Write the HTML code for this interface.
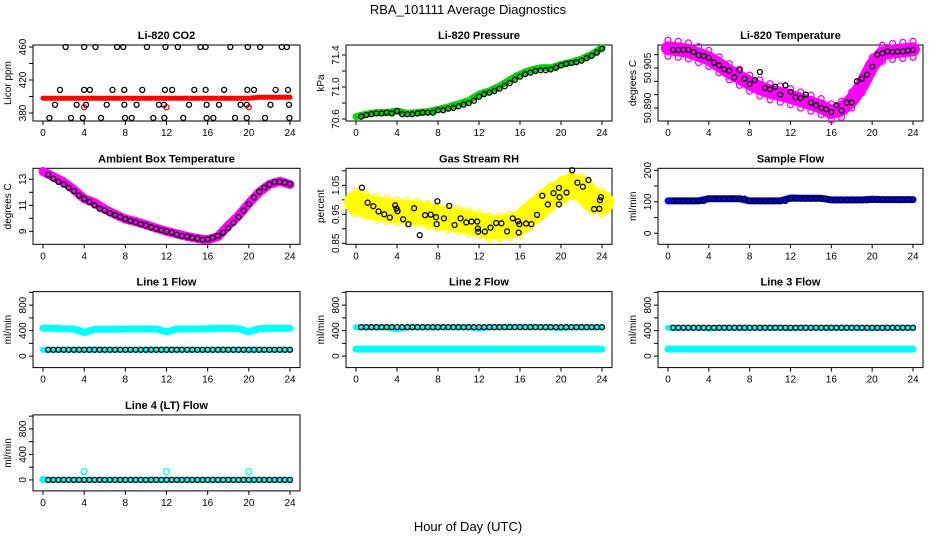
<!DOCTYPE html>
<html><head><meta charset="utf-8"><style>
html,body{margin:0;padding:0;background:#fff;}
svg{display:block;font-family:"Liberation Sans",Arial,sans-serif;}
</style></head><body>
<svg id="chart" width="936" height="540" viewBox="0 0 936 540" xmlns="http://www.w3.org/2000/svg">
<rect x="0" y="0" width="936" height="540" fill="#fff"/>
<text x="468" y="14" font-size="13" text-anchor="middle">RBA_101111  Average Diagnostics</text>
<text x="468" y="531" font-size="13" text-anchor="middle">Hour of Day (UTC)</text>
</svg>
<script>
const hourly = [0,1,2,3,4,5,6,7,8,9,10,11,12,13,14,15,16,17,18,19,20,21,22,23,24];
const halfHours = [0.5,1,1.5,2,2.5,3,3.5,4,4.5,5,5.5,6,6.5,7,7.5,8,8.5,9,9.5,10,10.5,11,11.5,12,12.5,13,13.5,14,14.5,15,15.5,16,16.5,17,17.5,18,18.5,19,19.5,20,20.5,21,21.5,22,22.5,23,23.5,24];
const xTicks = [0,4,8,12,16,20,24];

// CO2
const co2RedValues = [398,398,398,398,398,398,398,398,398,398,398,398,398,398,398,398,398,398,398,398,398,399,399,399,399];
const co2RedOutlierHours = [4,12,20];
const co2RedOutlierValues = [387,387,387];
const co2BlackHours = [2.2,4.0,5.1,7.2,7.8,10.1,11.9,13.1,15.3,15.8,18.2,19.9,21.1,23.2,23.7,
 1.65,4.0,4.55,6.75,7.9,9.65,11.85,12.55,14.7,15.8,17.6,19.85,20.5,22.6,23.8,
 1.17,3.27,4.18,6.19,7.9,9.1,11.27,11.76,14.19,15.9,17.1,19.2,19.8,22.1,23.9,
 0.62,2.72,3.86,5.64,7.97,8.62,10.72,11.79,13.63,15.9,16.55,18.66,19.8,21.57,23.94];
const co2BlackValues = [460,460,460,460,460,460,460,460,460,460,460,460,460,460,460,
 408,408,408,408,408,408,408,408,408,408,408,408,408,408,408,
 390,390,390,390,390,390,390,390,390,390,390,390,390,390,390,
 374,374,374,374,374,374,374,374,374,374,374,374,374,374,374];

// Pressure
const presGreenValues = [70.63,70.66,70.68,70.68,70.70,70.67,70.68,70.69,70.72,70.75,70.79,70.83,70.91,70.95,71.01,71.09,71.16,71.21,71.24,71.24,71.28,71.31,71.35,71.41,71.49];
const presBlackValues = [70.63,70.65,70.66,70.67,70.67,70.68,70.67,70.70,70.66,70.66,70.66,70.67,70.68,70.68,70.68,70.71,70.71,70.73,70.74,70.76,70.78,70.80,70.83,70.88,70.91,70.93,70.95,70.98,71.01,71.05,71.09,71.13,71.16,71.18,71.20,71.21,71.21,71.22,71.24,71.27,71.29,71.30,71.31,71.33,71.36,71.39,71.43,71.48];

// Li-820 temperature
const tempMagentaValues = [50.9124,50.9120,50.9114,50.9100,50.9086,50.9062,50.9036,50.9015,50.8993,50.8975,50.8961,50.8952,50.8942,50.8930,50.8918,50.8905,50.8885,50.8895,50.8930,50.8986,50.9060,50.9105,50.9112,50.9116,50.9120];
const tempBlackValues = [50.9118,50.9118,50.9118,50.9118,50.9110,50.9098,50.9095,50.9088,50.9070,50.9060,50.9045,50.9040,50.9015,50.9042,50.9010,50.8990,50.9005,50.9035,50.8975,50.8970,50.8980,50.8950,50.8985,50.8960,50.8940,50.8937,50.8950,50.8920,50.8910,50.8900,50.8895,50.8885,50.8910,50.8890,50.8920,50.8920,50.9000,50.9010,50.9025,50.9055,50.9100,50.9105,50.9112,50.9110,50.9112,50.9112,50.9115,50.9118];

// Ambient
const ambMagentaValues = [13.6,13.2,12.8,12.2,11.5,11.2,10.7,10.3,9.95,9.75,9.5,9.25,9.0,8.8,8.6,8.45,8.35,8.6,9.45,10.2,11.15,12.0,12.6,12.85,12.6];
const ambBlackValues = [13.35,13.05,12.8,12.6,12.35,12.1,11.75,11.5,11.25,11.0,10.75,10.6,10.4,10.25,10.1,9.95,9.8,9.7,9.55,9.45,9.3,9.2,9.1,9.0,8.9,8.75,8.65,8.6,8.5,8.45,8.35,8.4,8.5,8.65,8.9,9.25,9.65,10.1,10.6,11.1,11.6,12.05,12.35,12.6,12.8,12.8,12.75,12.65];

// RH
const rhYellowValues = [0.99,0.98,0.97,0.965,0.96,0.958,0.955,0.948,0.94,0.935,0.93,0.922,0.915,0.905,0.905,0.91,0.92,0.95,0.98,1.01,1.03,1.05,1.04,1.0,0.99];
const rhBlackHours = [0.58,1.13,1.69,2.2,2.75,3.3,3.82,3.95,4.05,4.6,5.12,5.67,6.22,6.74,7.29,7.81,7.87,7.94,8.58,9.1,9.62,10.2,10.76,11.27,11.82,11.89,11.92,12.57,13.12,13.67,14.19,14.74,15.29,15.81,15.87,15.94,16.59,17.1,17.66,18.17,18.72,19.27,19.8,19.86,19.8,20.54,21.09,21.6,22.13,22.68,23.23,23.74,23.8,23.9];
const rhBlackValues = [1.042,0.990,0.978,0.960,0.950,0.939,0.981,0.970,0.961,0.933,0.916,0.971,0.878,0.947,0.949,0.940,0.916,0.995,0.936,0.979,0.913,0.936,0.922,0.925,0.925,0.901,0.890,0.890,0.904,0.920,0.919,0.891,0.936,0.926,0.887,0.916,0.918,0.916,0.948,1.014,0.984,1.023,1.041,1.009,0.984,1.025,1.102,1.059,1.045,1.068,0.968,0.969,0.999,1.009];

// Sample flow
const sampleBlueValues = [103,103,103,103,110,110,110,110,103,103,103,103,112,111,111,111,106,106,106,106,108,107,107,107,107];
const sampleBlackValues = [103,103,103,103,103,103,103,110,110,110,110,110,110,110,110,103,103,103,103,103,103,103,103,110,110,110,110,110,110,110,110,105,105,105,105,105,105,105,105,107,107,107,107,107,107,107,107,107];

// Line flows
const line1CyanHigh = [440,435,430,425,370,420,420,420,425,425,425,425,380,425,425,425,430,435,435,430,380,430,435,435,435];
const line1CyanLow = [100,100,100,100,100,100,100,100,100,100,100,100,100,100,100,100,100,100,100,100,100,100,100,100,100];
const line1Black = [100,100,100,100,100,100,100,100,100,100,100,100,100,100,100,100,100,100,100,100,100,100,100,100,100,100,100,100,100,100,100,100,100,100,100,100,100,100,100,100,100,100,100,100,100,100,100,100];
const line2CyanHigh = [450,450,450,450,420,450,450,450,450,450,450,450,430,455,455,460,460,460,455,450,440,450,450,450,450];
const line2CyanLow = [110,110,110,110,110,110,110,110,110,110,110,110,110,110,110,110,110,110,110,110,110,110,110,110,110];
const line2Black = [455,455,455,455,455,455,455,455,455,455,455,455,455,455,455,455,455,455,455,455,455,455,455,455,455,455,455,455,455,455,455,455,455,455,455,455,455,455,455,455,455,455,455,455,455,455,455,455];
const line3CyanHigh = [445,445,445,445,430,445,445,445,445,445,445,445,435,445,445,445,445,445,445,445,435,445,445,445,445];
const line3CyanLow = [110,110,110,110,110,110,110,110,110,110,110,110,110,110,110,110,110,110,110,110,110,110,110,110,110];
const line3Black = [445,445,445,445,445,445,445,445,445,445,445,445,445,445,445,445,445,445,445,445,445,445,445,445,445,445,445,445,445,445,445,445,445,445,445,445,445,445,445,445,445,445,445,445,445,445,445,445];
const line4Cyan = [0,0,0,0,0,0,0,0,0,0,0,0,0,0,0,0,0,0,0,0,0,0,0,0,0];
const line4SpikeHours = [0,4,12,20];
const line4SpikeValues = [5,130,130,130];
const line4Black = [0,0,0,0,0,0,0,0,0,0,0,0,0,0,0,0,0,0,0,0,0,0,0,0,0,0,0,0,0,0,0,0,0,0,0,0,0,0,0,0,0,0,0,0,0,0,0,0];

const NS = "http://www.w3.org/2000/svg";
const svg = document.getElementById('chart');
function el(tag, attrs, parent) {
  const e = document.createElementNS(NS, tag);
  for (const k in attrs) e.setAttribute(k, attrs[k]);
  (parent || svg).appendChild(e);
  return e;
}
const lefts = [33, 346, 658], rights = [300, 612, 923];

function makePanel(cfg) {
  const g = el('g', {});
  
  
  const left = lefts[cfg.col], right = rights[cfg.col];
  const top = 45 + 123.3 * cfg.row, bottom = top + 76;
  const sx = h => left + 10 + h * (right - left - 20) / 24;
  const [v1, d1, v2, d2] = cfg.cal;
  const sy = v => top + d1 + (v - v1) * (d2 - d1) / (v2 - v1);
  const t = el('text', {x: (left + right) / 2, y: top - 6, 'font-size': 11, 'font-weight': 'bold', 'text-anchor': 'middle'}, g);
  t.textContent = cfg.title;
  
  
  const frame = el('rect', {x: left, y: top, width: right - left, height: bottom - top, fill: 'none', stroke: '#000', 'stroke-width': 1}, g);
  
  
  const xa = el('g', {}, g);
  
  
  xTicks.forEach(h => {
    el('line', {x1: sx(h), x2: sx(h), y1: bottom, y2: bottom + 4, stroke: '#000'}, xa);
    const lb = el('text', {x: sx(h), y: bottom + 15, 'font-size': 10, 'text-anchor': 'middle'}, xa);
    lb.textContent = h;
    
    
  });
  const ya = el('g', {}, g);
  
  
  const yt0 = sy(cfg.ticks[0]), yt1 = sy(cfg.ticks[cfg.ticks.length - 1]);
  el('line', {x1: left, x2: left, y1: Math.min(yt0, yt1), y2: Math.max(yt0, yt1), stroke: '#000'}, ya);
  cfg.ticks.forEach(v => {
    el('line', {x1: left - 4, x2: left, y1: sy(v), y2: sy(v), stroke: '#000'}, ya);
  });
  cfg.labels.forEach(lab => {
    const y = sy(parseFloat(lab));
    const lb = el('text', {x: left - 7, y: y, 'font-size': 10, 'text-anchor': 'middle', transform: 'rotate(-90 ' + (left - 7) + ' ' + y + ')'}, ya);
    lb.textContent = lab;
    
    
  });
  const cy = (top + bottom) / 2;
  const yt = el('text', {x: left - 22, y: cy, 'font-size': 10, 'text-anchor': 'middle', transform: 'rotate(-90 ' + (left - 22) + ' ' + cy + ')'}, g);
  yt.textContent = cfg.ytitle;
  
  
  const plot = el('g', {}, g);
  
  
  return {g: plot, sx, sy};
}
function ribbon(p, hours, values, color, width, name) {
  const pts = hours.map((h, i) => p.sx(h).toFixed(1) + ',' + p.sy(values[i]).toFixed(1)).join(' ');
  const pl = el('polyline', {points: pts, fill: 'none', stroke: color, 'stroke-width': width, 'stroke-linejoin': 'round', 'stroke-linecap': 'round'}, p.g);
  
  
}
function rings(p, hours, values, color, name, r) {
  const gg = el('g', {}, p.g);
  
  
  hours.forEach((h, i) => {
    const c = el('circle', {cx: p.sx(h), cy: p.sy(values[i]), r: r || 2.5, fill: 'none', stroke: color, 'stroke-width': 1.3}, gg);
    
    
  });
}

let p;
p = makePanel({name: 'co2', title: 'Li-820 CO2', col: 0, row: 0, cal: [460, 2, 380, 68], ticks: [380,400,420,440,460], labels: ['380','420','460'], ytitle: 'Licor ppm'});
ribbon(p, hourly, co2RedValues, '#ff0000', 5, 'co2-red-series');
rings(p, co2RedOutlierHours, co2RedOutlierValues, '#ff0000', 'co2-red-outliers');
rings(p, co2BlackHours, co2BlackValues, '#000', 'co2-black-series');

p = makePanel({name: 'pressure', title: 'Li-820 Pressure', col: 1, row: 0, cal: [71.4, 10, 70.6, 74], ticks: [70.6,70.8,71.0,71.2,71.4], labels: ['70.6','71.0','71.4'], ytitle: 'kPa'});
ribbon(p, hourly, presGreenValues, '#00cc00', 7, 'pressure-green-series');
rings(p, hourly, presGreenValues, '#00ee00', 'pressure-green-points', 2.8);
rings(p, halfHours, presBlackValues, '#000', 'pressure-black-series');

p = makePanel({name: 'li820-temp', title: 'Li-820 Temperature', col: 2, row: 0, cal: [50.905, 23, 50.890, 63], ticks: [50.890,50.895,50.900,50.905,50.910], labels: ['50.890','50.905'], ytitle: 'degrees C'});
ribbon(p, hourly, tempMagentaValues, '#ff00ff', 14, 'li820-temp-magenta-series');
rings(p, hourly, tempMagentaValues.map(v => v + 0.003), '#ff00ff', 'li820-temp-magenta-upper', 3);
rings(p, hourly, tempMagentaValues.map(v => v - 0.003), '#ff00ff', 'li820-temp-magenta-lower', 3);
rings(p, halfHours, tempBlackValues, '#000', 'li820-temp-black-series');

p = makePanel({name: 'ambient', title: 'Ambient Box Temperature', col: 0, row: 1, cal: [13, 11, 9, 63], ticks: [9,10,11,12,13], labels: ['9','11','13'], ytitle: 'degrees C'});
ribbon(p, hourly, ambMagentaValues, '#ff00ff', 9, 'ambient-magenta-series');
rings(p, halfHours, ambBlackValues, '#000', 'ambient-black-series');

p = makePanel({name: 'rh', title: 'Gas Stream RH', col: 1, row: 1, cal: [1.05, 17, 0.85, 75], ticks: [0.85,0.90,0.95,1.00,1.05,1.10], labels: ['0.85','0.95','1.05'], ytitle: 'percent'});
ribbon(p, hourly, rhYellowValues, '#ffff00', 24, 'rh-yellow-series');
rings(p, hourly, rhYellowValues.map(v => v + 0.04), '#ffff00', 'rh-yellow-upper', 3);
rings(p, hourly, rhYellowValues.map(v => v - 0.04), '#ffff00', 'rh-yellow-lower', 3);
rings(p, rhBlackHours, rhBlackValues, '#000', 'rh-black-series');

p = makePanel({name: 'sample-flow', title: 'Sample Flow', col: 2, row: 1, cal: [200, 2, 0, 65], ticks: [0,50,100,150,200], labels: ['0','100','200'], ytitle: 'ml/min'});
ribbon(p, hourly, sampleBlueValues, '#0000ff', 7, 'sample-flow-blue-series');
rings(p, halfHours, sampleBlackValues, '#000', 'sample-flow-black-series');

const flowTicks = [0,200,400,600,800,1000], flowLabels = ['0','400','800'];
p = makePanel({name: 'line1-flow', title: 'Line 1 Flow', col: 0, row: 2, cal: [800, 13.5, 0, 64.5], ticks: flowTicks, labels: flowLabels, ytitle: 'ml/min'});
ribbon(p, hourly, line1CyanHigh, '#00ffff', 7, 'line1-cyan-high');
ribbon(p, hourly, line1CyanLow, '#00ffff', 6, 'line1-cyan-low');
rings(p, halfHours, line1Black, '#000', 'line1-black-series');

p = makePanel({name: 'line2-flow', title: 'Line 2 Flow', col: 1, row: 2, cal: [800, 13.5, 0, 64.5], ticks: flowTicks, labels: flowLabels, ytitle: 'ml/min'});
ribbon(p, hourly, line2CyanHigh, '#00ffff', 6, 'line2-cyan-high');
ribbon(p, hourly, line2CyanLow, '#00ffff', 7, 'line2-cyan-low');
rings(p, halfHours, line2Black, '#000', 'line2-black-series');

p = makePanel({name: 'line3-flow', title: 'Line 3 Flow', col: 2, row: 2, cal: [800, 13.5, 0, 64.5], ticks: flowTicks, labels: flowLabels, ytitle: 'ml/min'});
ribbon(p, hourly, line3CyanHigh, '#00ffff', 6, 'line3-cyan-high');
ribbon(p, hourly, line3CyanLow, '#00ffff', 7, 'line3-cyan-low');
rings(p, halfHours, line3Black, '#000', 'line3-black-series');

p = makePanel({name: 'line4-flow', title: 'Line 4 (LT) Flow', col: 0, row: 3, cal: [800, 14, 0, 65], ticks: flowTicks, labels: flowLabels, ytitle: 'ml/min'});
ribbon(p, hourly, line4Cyan, '#00ffff', 6, 'line4-cyan-series');
rings(p, line4SpikeHours, line4SpikeValues, '#00ffff', 'line4-cyan-spikes', 3);
rings(p, halfHours, line4Black, '#000', 'line4-black-series');
</script>
</body></html>
